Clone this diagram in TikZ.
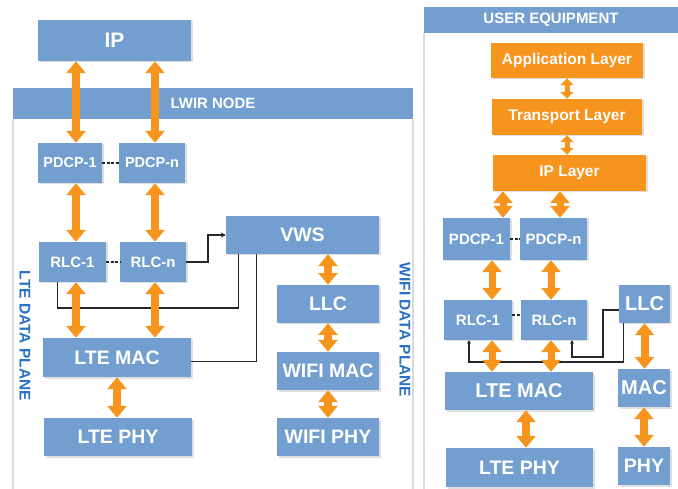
\documentclass[tikz,border=0pt]{standalone}
\usepackage{fontspec}
\setmainfont{Liberation Sans}
\usetikzlibrary{arrows.meta,shadows}
\definecolor{boxblue}{RGB}{114,159,207}
\definecolor{layerorange}{RGB}{247,148,29}
\definecolor{planeblue}{RGB}{40,112,200}
\definecolor{panelgray}{RGB}{218,218,218}
\begin{document}
\begin{tikzpicture}[x=1pt, y=-1pt,
		fs/.style={font=\fontsize{#1}{#1}\selectfont\bfseries},
		box/.style={fill=boxblue, text=white, inner sep=0pt, drop shadow={shadow xshift=1.5pt, shadow yshift=-1.5pt, opacity=0.25}},
		layer/.style={box, fill=layerorange},
		bar/.style={fill=boxblue, text=white, inner sep=0pt, fs=15},
		panel/.style={draw=panelgray, line width=1.5pt},
		dblarrow/.style={draw=layerorange, line width=8pt, {Triangle[width=19pt,length=12pt]}-{Triangle[width=19pt,length=12pt]}},
		smallarrow/.style={draw=layerorange, line width=5pt, {Triangle[width=13pt,length=7pt]}-{Triangle[width=13pt,length=7pt]}},
		link/.style={draw=black!85, line width=1.5pt},
		dashlink/.style={link, dash pattern=on 3pt off 1.5pt},
		plane/.style={text=planeblue, fs=15.5, rotate=-90}]
				\useasboundingbox (0,0) rectangle (678,489);
				
				%panels
				\node (lwirbar) at (213,103.5) [bar, minimum width=400pt, minimum height=31pt]{LWIR NODE};
				\draw[panel] (lwirbar.south west) -- ++(0,370);
				\draw[panel] (lwirbar.south east) -- ++(0,370);
				\node (uebar) at (551,20) [bar, minimum width=254pt, minimum height=26pt]{USER EQUIPMENT};
				\draw[panel] (uebar.south west) -- ++(0,456);
				
				\node (lteplane) at (25,336) [plane]{LTE DATA PLANE};
				\node (wifiplane) at (405,330) [plane]{WIFI DATA PLANE};
				
				%lwir node
				\node (ip) at (114.5,40.5) [box, fs=21, minimum width=153pt, minimum height=41pt]{IP};
				\node (pdcpa) at (70,163) [box, fs=14.5, minimum width=64pt, minimum height=40pt]{PDCP-1};
				\node (pdcpn) at (152,163) [box, fs=14.5, minimum width=66pt, minimum height=40pt]{PDCP-n};
				\node (rlca) at (72.5,262) [box, fs=15, minimum width=67pt, minimum height=40pt]{RLC-1};
				\node (rlcn) at (153,262) [box, fs=15, minimum width=66pt, minimum height=40pt]{RLC-n};
				\node (vws) at (302.5,235) [box, fs=19.5, minimum width=153pt, minimum height=38pt]{VWS};
				\node (ltemac) at (117,357.5) [box, fs=19.5, minimum width=148pt, minimum height=39pt]{LTE MAC};
				\node (ltephy) at (118,437) [box, fs=19.5, minimum width=148pt, minimum height=38pt]{LTE PHY};
				\node (llc) at (328,304) [box, fs=19.5, minimum width=102pt, minimum height=38pt]{LLC};
				\node (wifimac) at (328,371) [box, fs=19.5, minimum width=102pt, minimum height=38pt]{WIFI MAC};
				\node (wifiphy) at (328,437) [box, fs=19.5, minimum width=102pt, minimum height=38pt]{WIFI PHY};
				
				%user equipment
				\node (app) at (567,60.5) [layer, fs=15.5, minimum width=152pt, minimum height=35pt]{Application Layer};
				\node (trans) at (567,117) [layer, fs=15.5, minimum width=150pt, minimum height=36pt]{Transport Layer};
				\node (ueip) at (569.5,173) [layer, fs=15.5, minimum width=153pt, minimum height=36pt]{IP Layer};
				\node (uepdcpa) at (476.5,239) [box, fs=15, minimum width=67pt, minimum height=42pt]{PDCP-1};
				\node (uepdcpn) at (553.5,239) [box, fs=15, minimum width=67pt, minimum height=42pt]{PDCP-n};
				\node (uerlca) at (478,320) [box, fs=15, minimum width=68pt, minimum height=40pt]{RLC-1};
				\node (uerlcn) at (554,320) [box, fs=15, minimum width=66pt, minimum height=40pt]{RLC-n};
				\node (uellc) at (644.5,304) [box, fs=20, minimum width=51pt, minimum height=38pt]{LLC};
				\node (uemac) at (519,391) [box, fs=20, minimum width=148pt, minimum height=38pt]{LTE MAC};
				\node (uemacw) at (644,388) [box, fs=20, minimum width=52pt, minimum height=38pt]{MAC};
				\node (uephy) at (519.5,467.5) [box, fs=19.5, minimum width=147pt, minimum height=39pt]{LTE PHY};
				\node (uephyw) at (644,466) [box, fs=19.5, minimum width=52pt, minimum height=38pt]{PHY};
				
				%black links
				\draw[dashlink] (pdcpa.east) -- (pdcpn.west);
				\draw[dashlink] (rlca.east) -- (rlcn.west);
				\draw[link, -{Stealth[length=5pt,width=5pt]}] (rlcn.east) -- ++(22,0) |- (vws.west);
				\draw[link] ([xshift=-15pt]rlca.south) -- ++(0,26) -| ([xshift=-64pt]vws.south);
				\draw[link] ([yshift=-4pt]ltemac.east) -| ([xshift=-46pt]vws.south);
				\draw[dashlink] (uepdcpa.east) -- (uepdcpn.west);
				\draw[dashlink] ([yshift=5pt]uerlca.east) -- ([yshift=5pt]uerlcn.west);
				\draw[link, -{Stealth[length=3.5pt,width=4pt]}] ([yshift=-6pt]uellc.west) -- ++(-16,0) -- ++(0,47) -| ([xshift=18pt]uerlcn.south);
				\draw[link, -{Stealth[length=3.5pt,width=4pt]}] ([xshift=-21pt]uellc.south) -- ++(0,39) -| ([xshift=-9pt]uerlca.south);
				
				%orange arrows
				\coordinate (colA) at (76,0);
				\coordinate (colB) at (155,0);
				\foreach \col in {colA, colB}{
					\draw[dblarrow] (ip.south -| \col) -- (pdcpa.north -| \col);
					\draw[dblarrow] (pdcpa.south -| \col) -- (rlca.north -| \col);
					\draw[dblarrow] (rlca.south -| \col) -- (ltemac.north -| \col);
				}
				\draw[dblarrow] (ltemac.south) -- (ltemac.south |- ltephy.north);
				\draw[dblarrow] (vws.south -| llc) -- (llc.north);
				\draw[dblarrow] (llc.south) -- (wifimac.north);
				\draw[dblarrow] (wifimac.south) -- (wifiphy.north);
				
				\coordinate (ipcolA) at (503,0);
				\coordinate (ipcolB) at (560,0);
				\coordinate (uecolA) at (492,0);
				\coordinate (uecolB) at (551,0);
				\draw[smallarrow] (app.south) -- (trans.north);
				\draw[smallarrow] (trans.south) -- (trans.south |- ueip.north);
				\foreach \col in {ipcolA, ipcolB}{
					\draw[dblarrow, line width=7pt] (ueip.south -| \col) -- (uepdcpa.north -| \col);
				}
				\foreach \col in {uecolA, uecolB}{
					\draw[dblarrow, line width=7pt] (uepdcpa.south -| \col) -- (uerlca.north -| \col);
					\draw[dblarrow, line width=7pt] (uerlca.south -| \col) -- (uemac.north -| \col);
				}
				\draw[dblarrow] ([xshift=7pt]uemac.south) -- ([xshift=7pt]uemac.south |- uephy.north);
				\draw[dblarrow] (uellc.south) -- (uellc.south |- uemacw.north);
				\draw[dblarrow] (uemacw.south) -- (uemacw.south |- uephyw.north);
			\end{tikzpicture}
\end{document}
